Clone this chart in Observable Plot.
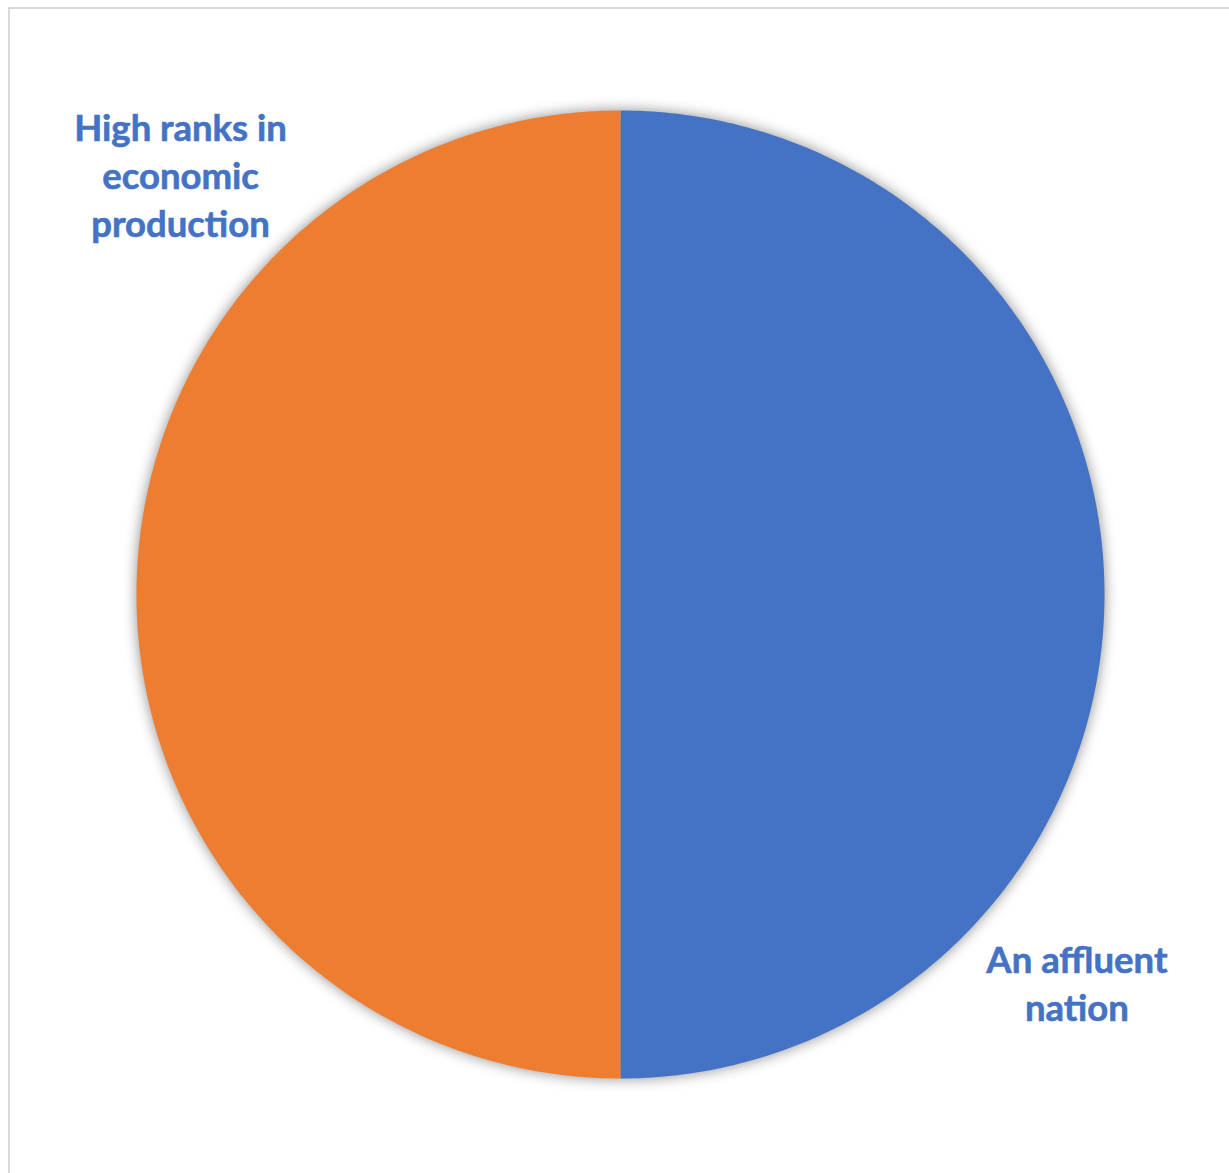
<!DOCTYPE html>
<html>
<head>
<meta charset="utf-8">
<script src="https://cdn.jsdelivr.net/npm/d3@7"></script>
<script src="https://cdn.jsdelivr.net/npm/@observablehq/plot@0.6"></script>
<style>
  html, body { margin: 0; padding: 0; background: #fff; overflow: hidden; }
  #wrap { position: relative; width: 1229px; height: 1173px; }
  #wrap svg { position: absolute; left: 0; top: 0; }
  #border { position: absolute; left: 8px; top: 7px; right: -20px; bottom: -20px;
            border-top: 2px solid #d9d9d9; border-left: 2px solid #d9d9d9; }
</style>
</head>
<body>
<div id="wrap"><div id="border"></div></div>
<script>
// Two-slice pie: share of answers
const categories = ["An affluent nation", "High ranks in economic production"];
const values = [50, 50];
const labelLines = ["An affluent\nnation", "High ranks in\neconomic\nproduction"];
const colors = ["#4472C4", "#ED7D31"];

const W = 1229, H = 1173;
const cx = 620, cy = 594, R = 484; // pie centre and radius in pixels

// slice angles, clockwise from 12 o'clock, in series order
const arcs = d3.pie().sort(null).value(d => d.value)(
  categories.map((c, i) => ({ category: c, value: values[i], label: labelLines[i] }))
);

// outline of each slice in unit-radius coordinates (y up)
const outline = [];
for (const a of arcs) {
  const n = 240;
  outline.push({ category: a.data.category, x: 0, y: 0 });
  for (let k = 0; k <= n; k++) {
    const t = a.startAngle + (a.endAngle - a.startAngle) * k / n;
    outline.push({ category: a.data.category, x: Math.sin(t), y: Math.cos(t) });
  }
}

// label anchors (unit coordinates), best-fit placement beside each slice
const labels = arcs.map((a, i) => {
  const place = i === 0 ? { x: 0.943, y: -0.80 } : { x: -0.909, y: 0.870 };
  return { ...place, text: a.data.label };
});

const plot = Plot.plot({
  width: W,
  height: H,
  margin: 0,
  x: { domain: [-cx / R, (W - cx) / R], axis: null },
  y: { domain: [-(H - cy) / R, cy / R], axis: null },
  color: { domain: categories, range: colors },
  style: { background: "transparent" },
  marks: [
    // soft shadow behind each slice
    Plot.line(outline, { x: "x", y: "y", z: "category", fill: "#000", fillOpacity: 0.45,
      stroke: "none", curve: "linear-closed" }),
    // the slices
    Plot.line(outline, { x: "x", y: "y", z: "category", fill: "category",
      stroke: "none", curve: "linear-closed" }),
    Plot.text(labels, { x: "x", y: "y", text: "text", fill: "#4472C4",
      fontSize: 36.5, fontWeight: "bold", lineHeight: 1.315, fontFamily: "Lato",
      textAnchor: "middle", stroke: "#4472C4", strokeWidth: 0.6 })
  ]
});

// blur filter for the shadow layer
const defs = d3.select(plot).insert("defs", ":first-child");
defs.append("filter").attr("id", "pie-shadow")
  .attr("x", "-10%").attr("y", "-10%").attr("width", "120%").attr("height", "120%")
  .append("feGaussianBlur").attr("stdDeviation", 7);
const lineGroups = plot.querySelectorAll("g[aria-label='line']");
d3.select(lineGroups[0]).selectAll("path").attr("filter", "url(#pie-shadow)");

document.getElementById("wrap").appendChild(plot);
</script>
</body>
</html>
